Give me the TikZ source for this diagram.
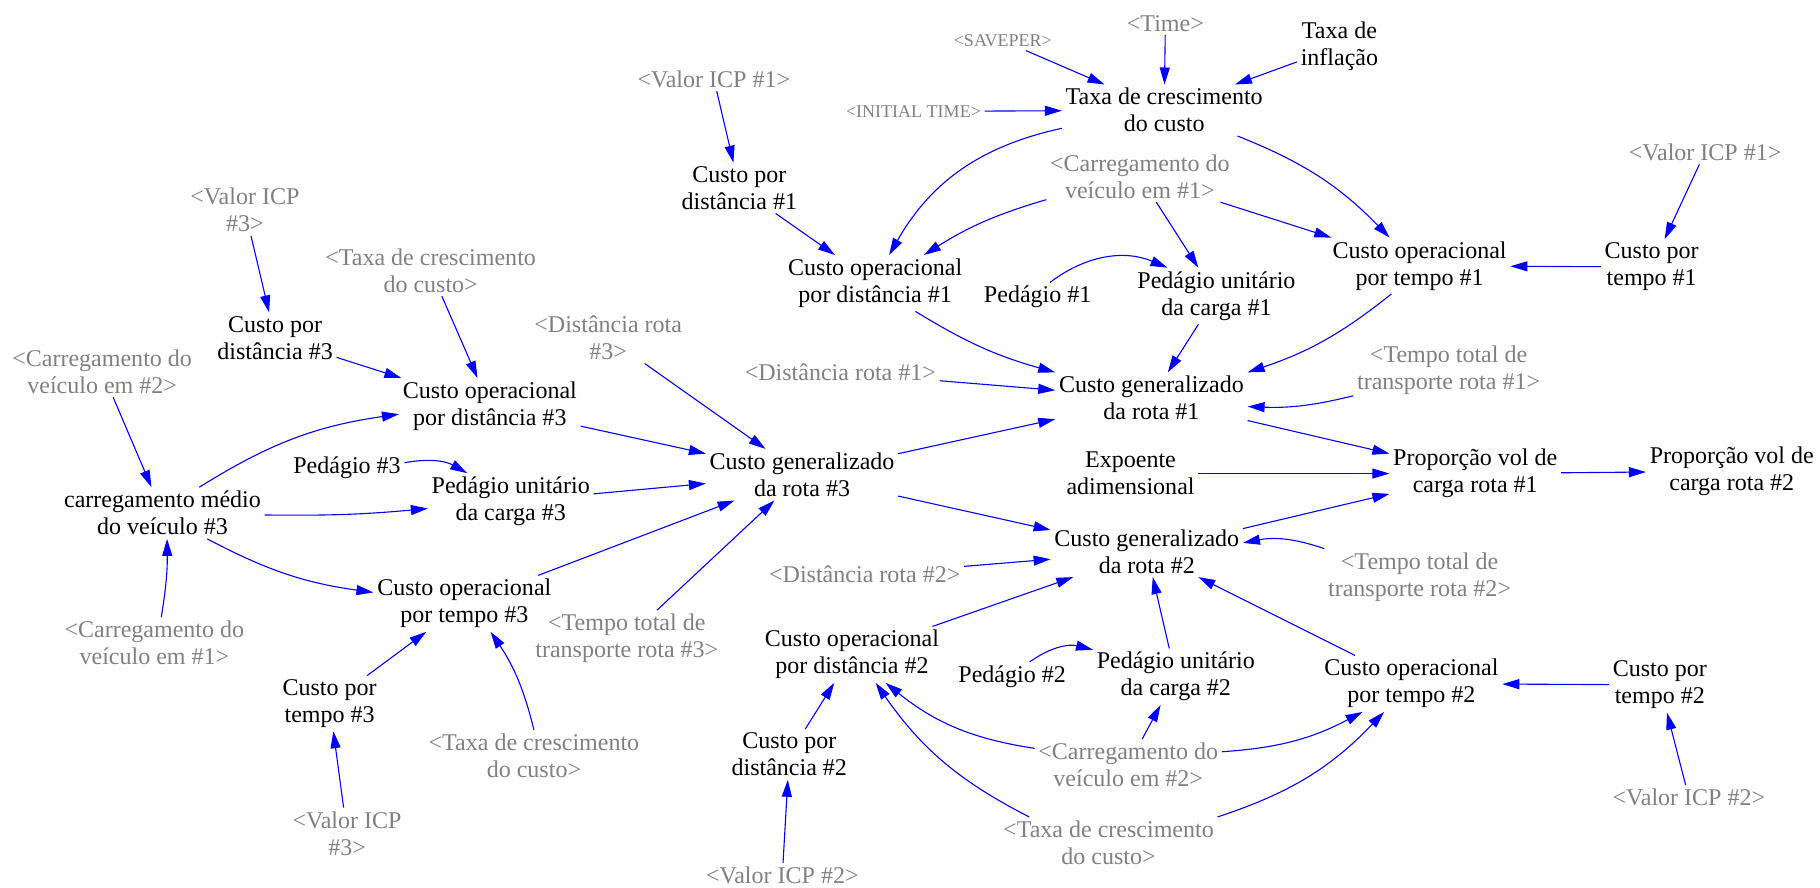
\documentclass[tikz,border=0pt]{standalone}
\usepackage{fontspec}
\setmainfont{Liberation Serif}
\usetikzlibrary{arrows.meta}
\definecolor{linkblue}{RGB}{0,0,255}
\definecolor{ghost}{RGB}{128,128,128}
\begin{document}
\begin{tikzpicture}[x=0.58pt,y=0.58pt,
  var/.style={align=center, inner sep=1.7pt, font=\fontsize{12}{13.5}\selectfont},
  shadowvar/.style={var, text=ghost},
  smallvar/.style={shadowvar, font=\fontsize{9}{10}\selectfont},
  link/.style={draw=linkblue, line width=0.55pt, -{Triangle[length=8.5pt,width=5pt]}}]
\useasboundingbox (0,0) rectangle (1568,-765);

% --- cost growth rate block (top)
\node[smallvar]  (saveper) at (864,-35)  {<SAVEPER>};
\node[shadowvar] (time)    at (1004,-20) {<Time>};
\node[var]       (infl)    at (1154,-40) {Taxa de\\inflação};
\node[smallvar]  (initt)   at (787,-96)  {<INITIAL TIME>};
\node[var]       (taxa)    at (1003,-95) {Taxa de crescimento\\do custo};

% --- route #1
\node[shadowvar] (vicp1a) at (615,-68)   {<Valor ICP \#1>};
\node[var]       (cpd1)   at (637,-162)  {Custo por\\distância \#1};
\node[shadowvar] (carr1)  at (982,-152)  {<Carregamento do\\veículo em \#1>};
\node[var]       (cod1)   at (754,-244)  {Custo operacional\\por distância \#1};
\node[var]       (ped1)   at (894,-256)  {Pedágio \#1};
\node[var]       (pu1)    at (1048,-255) {Pedágio unitário\\da carga \#1};
\node[var]       (cot1)   at (1223,-229) {Custo operacional\\por tempo \#1};
\node[var]       (cpt1)   at (1423,-230) {Custo por\\tempo \#1};
\node[shadowvar] (vicp1b) at (1469,-131) {<Valor ICP \#1>};
\node[shadowvar] (ttr1)   at (1248,-319) {<Tempo total de\\transporte rota \#1>};
\node[var]       (cg1)    at (992,-343)  {Custo generalizado\\da rota \#1};
\node[shadowvar] (dr1)    at (724,-321)  {<Distância rota \#1>};

% --- share of cargo volume
\node[var] (expo) at (974,-408)  {Expoente\\adimensional};
\node[var] (pv1)  at (1271,-408) {Proporção vol de\\carga rota \#1};
\node[var] (pv2)  at (1492,-406) {Proporção vol de\\carga rota \#2};

% --- route #2
\node[var]       (cg2)    at (988,-475)  {Custo generalizado\\da rota \#2};
\node[shadowvar] (dr2)    at (745,-495)  {<Distância rota \#2>};
\node[shadowvar] (ttr2)   at (1223,-497) {<Tempo total de\\transporte rota \#2>};
\node[var]       (cod2)   at (734,-564)  {Custo operacional\\por distância \#2};
\node[var]       (ped2)   at (872,-583)  {Pedágio \#2};
\node[var]       (pu2)    at (1013,-583) {Pedágio unitário\\da carga \#2};
\node[var]       (cot2)   at (1216,-589) {Custo operacional\\por tempo \#2};
\node[var]       (cpt2)   at (1430,-590) {Custo por\\tempo \#2};
\node[shadowvar] (vicp2b) at (1455,-687) {<Valor ICP \#2>};
\node[shadowvar] (carr2b) at (972,-659)  {<Carregamento do\\veículo em \#2>};
\node[shadowvar] (taxab)  at (955,-726)  {<Taxa de crescimento\\do custo>};
\node[var]       (cpd2)   at (680,-650)  {Custo por\\distância \#2};
\node[shadowvar] (vicp2a) at (674,-754)  {<Valor ICP \#2>};

% --- route #3
\node[var]       (cg3)    at (691,-409)  {Custo generalizado\\da rota \#3};
\node[shadowvar] (vicp3a) at (211,-181)  {<Valor ICP\\\#3>};
\node[shadowvar] (taxal)  at (371,-233)  {<Taxa de crescimento\\do custo>};
\node[var]       (cpd3)   at (237,-291)  {Custo por\\distância \#3};
\node[shadowvar] (carr2l) at (88,-320)   {<Carregamento do\\veículo em \#2>};
\node[shadowvar] (dr3)    at (524,-291)  {<Distância rota\\\#3>};
\node[var]       (cod3)   at (422,-350)  {Custo operacional\\por distância \#3};
\node[var]       (ped3)   at (299,-403)  {Pedágio \#3};
\node[var]       (pu3)    at (440,-432)  {Pedágio unitário\\da carga \#3};
\node[var]       (cmv3)   at (140,-442)  {carregamento médio\\do veículo \#3};
\node[var]       (cot3)   at (400,-520)  {Custo operacional\\por tempo \#3};
\node[shadowvar] (carr1l) at (133,-554)  {<Carregamento do\\veículo em \#1>};
\node[shadowvar] (ttr3)   at (540,-550)  {<Tempo total de\\transporte rota \#3>};
\node[var]       (cpt3)   at (284,-606)  {Custo por\\tempo \#3};
\node[shadowvar] (taxabl) at (460,-651)  {<Taxa de crescimento\\do custo>};
\node[shadowvar] (vicp3b) at (299,-718)  {<Valor ICP\\\#3>};

% --- links: growth rate
\draw[link] (saveper) -- (taxa);
\draw[link] (time) -- (taxa);
\draw[link] (infl) -- (taxa);
\draw[link] (initt) -- (taxa);

% --- links: route #1
\draw[link] (taxa.-170) to[bend right=24] (cod1);
\draw[link] (taxa) to[bend left=12] (cot1);
\draw[link] (carr1) to[bend right=8] (cod1);
\draw[link] (carr1) -- (pu1);
\draw[link] (carr1) -- (cot1);
\draw[link] (ped1.50) to[bend left=30] (pu1.150);
\draw[link] (vicp1a) -- (cpd1);
\draw[link] (cpd1) -- (cod1);
\draw[link] (cod1.-35) to[bend right=8] (cg1.north west);
\draw[link] (pu1) -- (cg1);
\draw[link] (cot1.-135) to[bend left=10] (cg1.north east);
\draw[link] (vicp1b) -- (cpt1);
\draw[link] (cpt1) -- (cot1);
\draw[link] (dr1) -- (cg1);
\draw[link] (ttr1.-165) to[bend left=8] (cg1.-5);

% --- links: shares
\draw[link] (cg1) -- (pv1);
\draw[link] (cg3) -- (cg1);
\draw[link] (expo) -- (pv1);
\draw[link] (pv1) -- (pv2);
\draw[link] (cg3) -- (cg2);
\draw[link] (cg2) -- (pv1);

% --- links: route #2
\draw[link] (ttr2.north west) to[bend right=15] (cg2.5);
\draw[link] (dr2) -- (cg2);
\draw[link] (cod2) -- (cg2);
\draw[link] (pu2) -- (cg2);
\draw[link] (cot2) -- (cg2);
\draw[link] (ped2.40) to[bend left=25] (pu2.162);
\draw[link] (carr2b) -- (pu2);
\draw[link] (carr2b.170) to[bend left=15] (cod2.-40);
\draw[link] (carr2b.8) to[bend right=12] (cot2.-150);
\draw[link] (taxab.162) to[bend left=14] (cod2.-50);
\draw[link] (taxab.north east) to[bend right=14] (cot2.-134);
\draw[link] (cpd2) -- (cod2);
\draw[link] (vicp2a) -- (cpd2);
\draw[link] (cpt2) -- (cot2);
\draw[link] (vicp2b) -- (cpt2);

% --- links: route #3
\draw[link] (vicp3a) -- (cpd3);
\draw[link] (taxal) -- (cod3);
\draw[link] (cpd3) -- (cod3);
\draw[link] (carr2l) -- (cmv3);
\draw[link] (cmv3.35) to[bend left=12] (cod3.-175);
\draw[link] (ped3.5) to[bend left=20] (pu3.147);
\draw[link] (cmv3) to[bend right=3] (pu3);
\draw[link] (cmv3.-30) to[bend right=10] (cot3.173);
\draw[link] (cod3) -- (cg3);
\draw[link] (pu3) -- (cg3);
\draw[link] (cot3) -- (cg3);
\draw[link] (dr3) -- (cg3);
\draw[link] (ttr3) -- (cg3);
\draw[link] (cpt3) -- (cot3);
\draw[link] (taxabl.north) to[bend right=10] (cot3.-47);
\draw[link] (vicp3b) -- (cpt3);
\draw[link] (carr1l.75) to[bend right=5] (cmv3.-80);
\end{tikzpicture}
\end{document}
